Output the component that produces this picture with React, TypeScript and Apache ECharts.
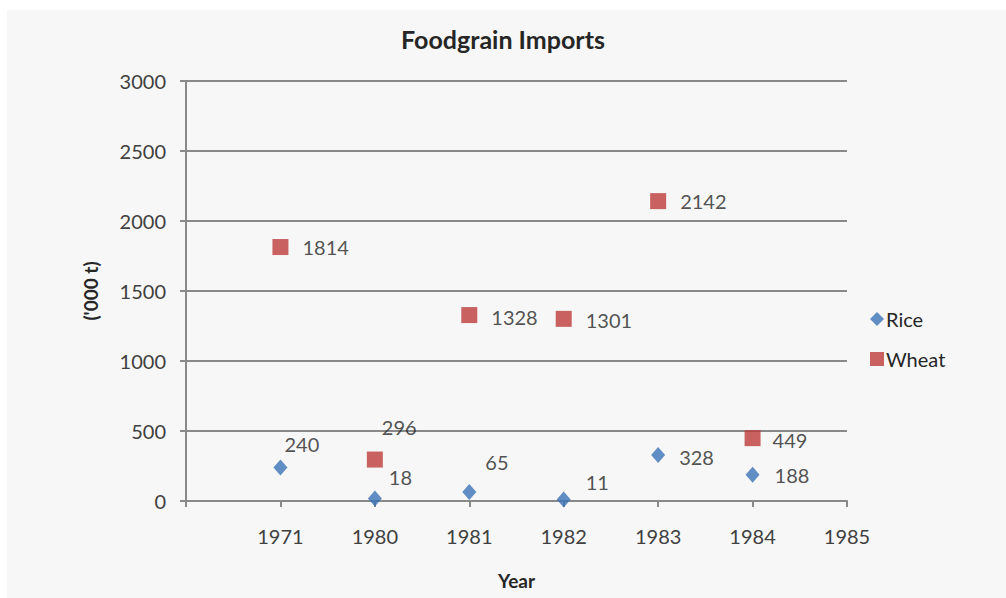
import React, { useEffect, useRef } from "react";
import * as echarts from "echarts";

const YEARS = ["", "1971", "1980", "1981", "1982", "1983", "1984", "1985"];
const RICE = [240, 18, 65, 11, 328, 188];
const WHEAT = [1814, 296, 1328, 1301, 2142, 449];
const RICE_LABEL_OFFSETS = [[-8, -23], [2, -21], [4, -30], [10, -17], [9, 2], [10, 0]];
const WHEAT_LABEL_OFFSETS = [[9, 0], [-6, -33], [9, 2], [9, 1], [9, 0], [7, 2]];
const Y_TICKS = [0, 500, 1000, 1500, 2000, 2500, 3000];

const FONT = "Lato, 'Open Sans', sans-serif";
const TEXT = "#262626";
const GRID = "#898989";

export default function App() {
  const ref = useRef<HTMLDivElement>(null);
  useEffect(() => {
    document.body.style.margin = "0";
    const chart = echarts.init(ref.current!, null, { renderer: "svg" });
    const mk = (vals: number[], offs: number[][]) =>
      vals.map((v, i) => ({
        value: [i + 1, v],
        label: { offset: offs[i] },
      }));
    chart.setOption({
      animation: false,
      backgroundColor: "#ffffff",
      graphic: [
        {
          type: "rect",
          z: -10,
          silent: true,
          shape: { x: 7, y: 10, width: 1006 - 7, height: 598 - 10 },
          style: { fill: "#f7f7f7" },
        },
      ],
      title: {
        text: "Foodgrain Imports",
        left: "center",
        top: 21,
        textStyle: { fontFamily: FONT, fontSize: 25, fontWeight: "bold", color: TEXT },
      },
      legend: {
        orient: "vertical",
        left: 865,
        top: 304,
        itemGap: 20,
        itemWidth: 14,
        itemHeight: 14,
        textStyle: { fontFamily: FONT, fontSize: 20, color: TEXT, padding: [0, 0, 0, -3] },
        data: [
          { name: "Rice", icon: "diamond" },
          { name: "Wheat", icon: "rect" },
        ],
      },
      grid: { left: 186, right: 159, top: 81, bottom: 97 },
      xAxis: {
        type: "value",
        min: 0,
        max: YEARS.length - 1,
        interval: 1,
        name: "Year",
        nameLocation: "middle",
        nameGap: 70,
        nameTextStyle: { fontFamily: FONT, fontSize: 19, fontWeight: "bold", color: TEXT },
        axisLine: { show: true, lineStyle: { color: GRID, width: 2 } },
        axisTick: { show: true, length: 6, lineStyle: { color: GRID, width: 2 } },
        splitLine: { show: false },
        axisLabel: {
          margin: 25,
          fontFamily: FONT,
          fontSize: 20,
          color: "#404040",
          formatter: (v: number) => YEARS[Math.round(v)] ?? "",
        },
      },
      yAxis: {
        type: "value",
        min: Y_TICKS[0],
        max: Y_TICKS[Y_TICKS.length - 1],
        interval: Y_TICKS[1] - Y_TICKS[0],
        name: "('000 t)",
        nameLocation: "middle",
        nameGap: 86,
        nameRotate: 90,
        nameTextStyle: { fontFamily: FONT, fontSize: 19, fontWeight: "bold", color: TEXT },
        axisLine: { show: true, lineStyle: { color: GRID, width: 2 } },
        axisTick: { show: true, length: 6, lineStyle: { color: GRID, width: 2 } },
        splitLine: { show: true, lineStyle: { color: GRID, width: 2 } },
        axisLabel: {
          margin: 20,
          fontFamily: FONT,
          fontSize: 20,
          color: "#404040",
          formatter: (v: number) => String(v),
        },
      },
      series: [
        {
          name: "Rice",
          type: "scatter",
          symbol: "diamond",
          symbolSize: [14, 16],
          itemStyle: { color: "#3a72b6" },
          label: {
            show: true,
            position: "right",
            distance: 5,
            fontFamily: FONT,
            fontSize: 20,
            color: TEXT,
            formatter: (p: any) => String(p.value[1]),
          },
          data: mk(RICE, RICE_LABEL_OFFSETS),
        },
        {
          name: "Wheat",
          type: "scatter",
          symbol: "rect",
          symbolSize: 16,
          itemStyle: { color: "#bb3b38" },
          label: {
            show: true,
            position: "right",
            distance: 5,
            fontFamily: FONT,
            fontSize: 20,
            color: TEXT,
            formatter: (p: any) => String(p.value[1]),
          },
          data: mk(WHEAT, WHEAT_LABEL_OFFSETS),
        },
      ],
    });
    return () => chart.dispose();
  }, []);
  return <div ref={ref} style={{ width: 1006, height: 598 }} />;
}
